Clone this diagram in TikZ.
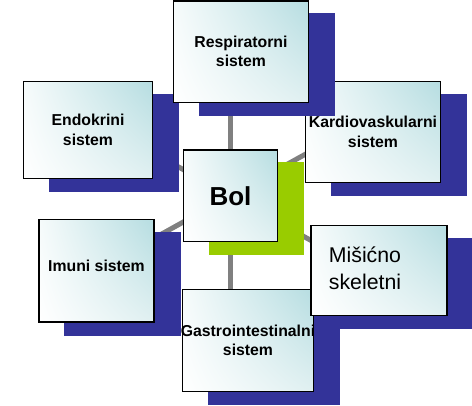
\documentclass[tikz,border=0pt]{standalone}
\usepackage{fontspec}
\setmainfont{Liberation Sans}
\usetikzlibrary{calc,backgrounds,shadings}
\definecolor{shblue}{RGB}{51,51,153}
\definecolor{shgreen}{RGB}{153,204,0}
\definecolor{tealA}{RGB}{182,221,225}
\definecolor{tealB}{RGB}{224,240,241}
\definecolor{tealC}{RGB}{246,251,251}
\definecolor{spoke}{RGB}{128,128,128}
\tikzset{
  box/.style={draw=black, line width=1.6pt, inner sep=0pt, align=center,
    shade, upper right=tealA, upper left=tealC, lower right=tealB, lower left=white,
    font=\bfseries\fontsize{15.8}{19.4}\selectfont},
  bshadow/.style={preaction={fill=#1, draw=#1, line width=1.6pt,
    transform canvas={xshift=26pt,yshift=-13pt}}},
  spk/.style={draw=spoke, line width=5pt}
}
\begin{document}
\begin{tikzpicture}[x=1pt,y=-1pt]
\useasboundingbox (0,0) rectangle (472,406);
% outer boxes
\node[box, bshadow=shblue, minimum width=129pt, minimum height=97pt] (endo) at (88,130) {Endokrini\\sistem};
\node[box, bshadow=shblue, minimum width=135pt, minimum height=101pt] (kard) at (373,132) {Kardiovaskularni\\sistem};
\node[box, bshadow=shblue, minimum width=135pt, minimum height=101.7pt] (resp) at (241,51.6) {Respiratorni\\sistem};
\node[box, bshadow=shgreen, minimum width=94pt, minimum height=91.5pt, font=\bfseries\fontsize{26}{30}\selectfont] (bol) at (230.5,195.8) {Bol};
\node[box, bshadow=shblue, minimum width=115.4pt, minimum height=102.5pt] (imuni) at (96.5,270.7) {\raisebox{9pt}{Imuni sistem}};
\node[box, bshadow=shblue, minimum width=131pt, minimum height=102pt] (gastro) at (248,340.5) {\makebox[120pt]{Gastrointestinalni}\\sistem};
\node[box, bshadow=shblue, minimum width=135.6pt, minimum height=90pt, font=\fontsize{21.3}{26.5}\selectfont] (misic) at (379,270.5)
  {\raisebox{-4.5pt}{\begin{tabular}{@{}l@{}}Mišićno\\skeletni\end{tabular}}\hspace*{28pt}};
% spokes
\begin{scope}[on background layer]
  \draw[spk] (bol.center) -- (bol.center |- resp.center);
  \draw[spk] (bol.center) -- (bol.center |- gastro.center);
  \draw[spk] (bol.center) -- ($(kard.center)+(0,-15.3)$);
  \draw[spk] (bol.center) -- ($(endo.center)+(0,-13.3)$);
  \draw[spk] (bol.center) -- ($(misic.center)+(0,7.7)$);
  \draw[spk] (bol.center) -- ($(imuni.center)+(0,-0.5)$);
\end{scope}
\end{tikzpicture}
\end{document}
